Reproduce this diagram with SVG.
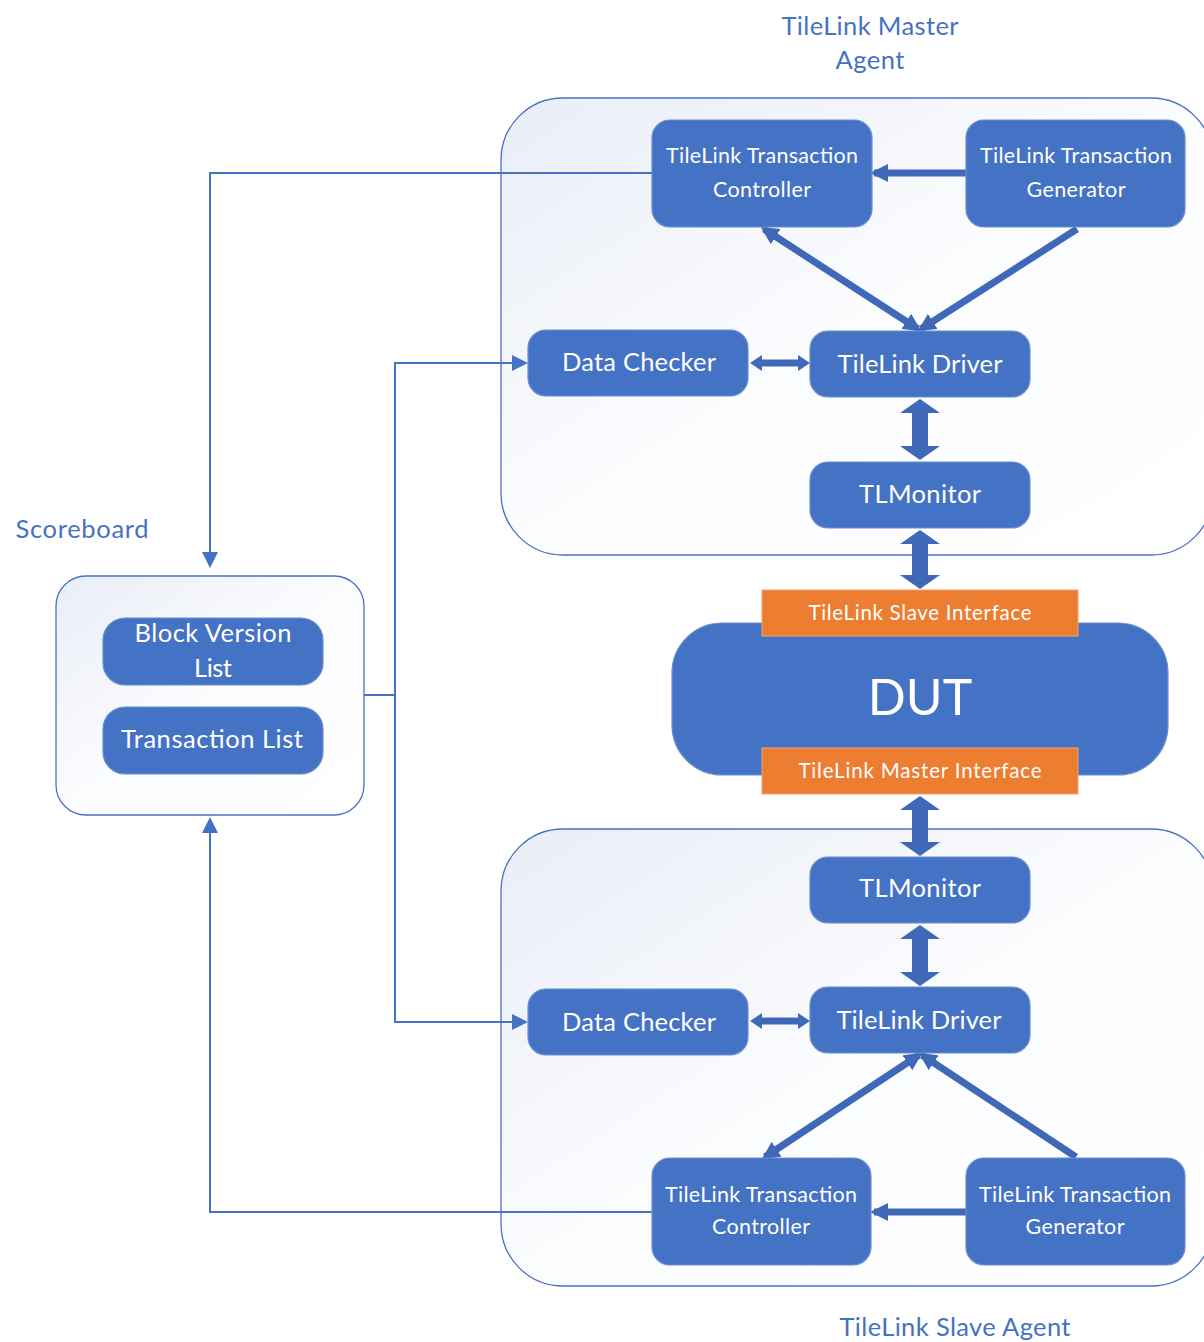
<svg xmlns="http://www.w3.org/2000/svg" width="1204" height="1342" viewBox="0 0 1204 1342">
<style>
.node{fill:#4472C4;stroke:#6B8ED0;stroke-width:1.2}
.orange{fill:#ED7D31;stroke:#F4A46E;stroke-width:1}
.cont{fill:url(#cg);stroke:#4A72BE;stroke-width:1.3}
.t{font-family:Lato,"Open Sans","Liberation Sans",sans-serif;fill:#FFFFFF;text-anchor:middle}
.lbl{font-family:Lato,"Open Sans","Liberation Sans",sans-serif;fill:#4472C4;text-anchor:middle}
.thin{fill:none;stroke:#4472C4;stroke-width:2}
.thick{fill:none;stroke:#3F69B8;stroke-width:7}
.blk{fill:#3F69B8}
</style>
<defs>
<linearGradient id="cg" x1="0" y1="0" x2="1" y2="1">
<stop offset="0" stop-color="#E9EDF6"/>
<stop offset="0.5" stop-color="#FBFCFE"/>
<stop offset="1" stop-color="#FFFFFF"/>
</linearGradient>
<marker id="ah" markerUnits="userSpaceOnUse" markerWidth="16" markerHeight="16" refX="14" refY="8" orient="auto-start-reverse">
<path d="M0,0 L16,8 L0,16 z" fill="#4472C4"/>
</marker>
<marker id="th" markerUnits="userSpaceOnUse" markerWidth="18" markerHeight="18" refX="14" refY="9" orient="auto-start-reverse">
<path d="M0,0 L18,9 L0,18 z" fill="#3F69B8"/>
</marker>
</defs>

<g id="labels">
<text class="lbl" x="870" y="35" font-size="25.5" textLength="177">TileLink Master</text>
<text class="lbl" x="870" y="69" font-size="25.5" textLength="69">Agent</text>
<text class="lbl" x="82" y="538" font-size="25.5" textLength="133">Scoreboard</text>
<text class="lbl" x="955" y="1336" font-size="25.5" textLength="231">TileLink Slave Agent</text>
</g>

<g id="master-agent">
<rect class="cont" x="501" y="98" width="712" height="457" rx="62"/>
</g>
<g id="slave-agent">
<rect class="cont" x="501" y="829" width="712" height="457" rx="62"/>
</g>
<g id="scoreboard">
<rect class="cont" x="56" y="576" width="308" height="239" rx="30"/>
</g>

<g id="connectors">
<polyline class="thin" points="652,173 210,173 210,566" marker-end="url(#ah)"/>
<polyline class="thin" points="652,1212 210,1212 210,819" marker-end="url(#ah)"/>
<polyline class="thin" points="364,695 395,695"/>
<polyline class="thin" points="526,363 395,363 395,1022 526,1022" marker-start="url(#ah)" marker-end="url(#ah)"/>
<line class="thick" x1="966" y1="173" x2="874" y2="173" stroke-width="8" marker-end="url(#th)"/>
<line class="thick" x1="966" y1="1212" x2="874" y2="1212" stroke-width="8" marker-end="url(#th)"/>
<line class="thick" x1="764" y1="229" x2="918" y2="329" marker-start="url(#th)" marker-end="url(#th)"/>
<line class="thick" x1="1077" y1="229" x2="921" y2="329" marker-end="url(#th)"/>
<line class="thick" x1="919" y1="1055" x2="765" y2="1157" marker-start="url(#th)" marker-end="url(#th)"/>
<line class="thick" x1="1076" y1="1157" x2="922" y2="1055" marker-end="url(#th)"/>
<polygon class="blk" points="750,363 762,355 762,359.5 798,359.5 798,355 810,363 798,371 798,366.5 762,366.5 762,371"/>
<polygon class="blk" points="750,1021 762,1013 762,1017.5 798,1017.5 798,1013 810,1021 798,1029 798,1024.5 762,1024.5 762,1029"/>
<polygon class="blk" points="920,399 940,413 928,413 928,446 940,446 920,460 900,446 912,446 912,413 900,413"/>
<polygon class="blk" points="920,530 940,544 928,544 928,575 940,575 920,589 900,575 912,575 912,544 900,544"/>
<polygon class="blk" points="920,796 940,810 928,810 928,842 940,842 920,856 900,842 912,842 912,810 900,810"/>
<polygon class="blk" points="920,925 940,939 928,939 928,972 940,972 920,986 900,972 912,972 912,939 900,939"/>
</g>

<g id="m-controller">
<rect class="node" x="652" y="120" width="220" height="107" rx="18"/>
<text class="t" x="762" y="163" font-size="21.5" textLength="192">TileLink Transaction</text>
<text class="t" x="762" y="197" font-size="21.5" textLength="98">Controller</text>
</g>
<g id="m-generator">
<rect class="node" x="966" y="120" width="219" height="107" rx="18"/>
<text class="t" x="1076" y="163" font-size="21.5" textLength="192">TileLink Transaction</text>
<text class="t" x="1076" y="197" font-size="21.5" textLength="99">Generator</text>
</g>
<g id="m-checker">
<rect class="node" x="528" y="330" width="220" height="66" rx="18"/>
<text class="t" x="639" y="371" font-size="25.5" textLength="154">Data Checker</text>
</g>
<g id="m-driver">
<rect class="node" x="810" y="331" width="220" height="66" rx="18"/>
<text class="t" x="920" y="373" font-size="25.5" textLength="165">TileLink Driver</text>
</g>
<g id="m-monitor">
<rect class="node" x="810" y="462" width="220" height="66" rx="18"/>
<text class="t" x="920" y="503" font-size="25.5" textLength="122">TLMonitor</text>
</g>

<g id="block-version-list">
<rect class="node" x="103" y="618" width="220" height="67" rx="22"/>
<text class="t" x="213" y="642" font-size="25.5" textLength="157">Block Version</text>
<text class="t" x="213" y="677" font-size="25.5" textLength="38">List</text>
</g>
<g id="transaction-list">
<rect class="node" x="103" y="707" width="220" height="67" rx="22"/>
<text class="t" x="212" y="748" font-size="25.5" textLength="182">Transaction List</text>
</g>

<g id="dut">
<rect class="node" x="672" y="623" width="496" height="152" rx="50" stroke="none"/>
<text class="t" x="920" y="715" font-size="50">DUT</text>
</g>
<g id="slave-interface">
<rect class="orange" x="762" y="590" width="316" height="46"/>
<text class="t" x="920" y="620" font-size="20.5" textLength="223">TileLink Slave Interface</text>
</g>
<g id="master-interface">
<rect class="orange" x="762" y="748" width="316" height="46"/>
<text class="t" x="920" y="778" font-size="20.5" textLength="243">TileLink Master Interface</text>
</g>

<g id="s-monitor">
<rect class="node" x="810" y="857" width="220" height="66" rx="18"/>
<text class="t" x="920" y="897" font-size="25.5" textLength="122">TLMonitor</text>
</g>
<g id="s-checker">
<rect class="node" x="528" y="989" width="220" height="66" rx="18"/>
<text class="t" x="639" y="1031" font-size="25.5" textLength="154">Data Checker</text>
</g>
<g id="s-driver">
<rect class="node" x="810" y="987" width="220" height="66" rx="18"/>
<text class="t" x="919" y="1029" font-size="25.5" textLength="165">TileLink Driver</text>
</g>
<g id="s-controller">
<rect class="node" x="652" y="1158" width="219" height="107" rx="18"/>
<text class="t" x="761" y="1202" font-size="21.5" textLength="192">TileLink Transaction</text>
<text class="t" x="761" y="1234" font-size="21.5" textLength="98">Controller</text>
</g>
<g id="s-generator">
<rect class="node" x="966" y="1158" width="219" height="107" rx="18"/>
<text class="t" x="1075" y="1202" font-size="21.5" textLength="192">TileLink Transaction</text>
<text class="t" x="1075" y="1234" font-size="21.5" textLength="99">Generator</text>
</g>
</svg>
